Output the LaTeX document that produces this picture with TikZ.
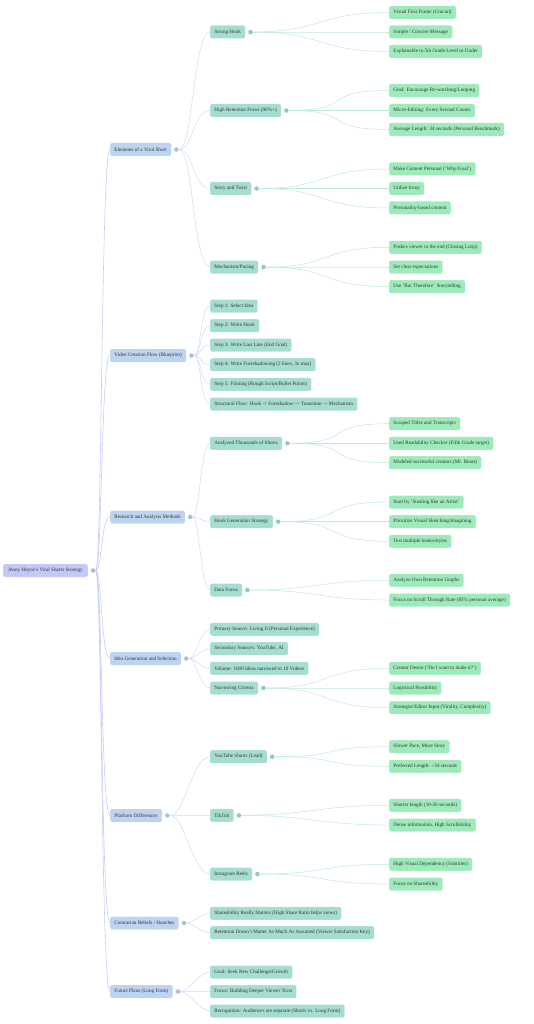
\documentclass[tikz,border=0pt]{standalone}
\usepackage{fontspec}
\setmainfont{Liberation Serif}
\usepackage{xcolor}
\definecolor{rootfill}{HTML}{C3C8F7}
\definecolor{secfill}{HTML}{BCD3F1}
\definecolor{subfill}{HTML}{A5DDD0}
\definecolor{leaffill}{HTML}{9DEBBB}
\definecolor{rootline}{HTML}{C6CCF8}
\definecolor{secline}{HTML}{CADDF5}
\definecolor{subline}{HTML}{BCEADC}
\definecolor{inktext}{HTML}{333333}
\usetikzlibrary{positioning}

\begin{document}
\begin{tikzpicture}[
    x=1pt,y=-1pt,
    font=\fontsize{5.15}{6}\selectfont,
    box/.style={anchor=west, rounded corners=1.5pt, inner xsep=4.3pt, inner ysep=0pt, minimum height=13pt, text=inktext, draw=white, densely dotted, line width=0.3pt},
    rootbox/.style={box, fill=rootfill},
    secbox/.style={box, fill=secfill},
    subbox/.style={box, fill=subfill},
    leafbox/.style={box, fill=leaffill},
    dot/.style={circle, inner sep=0pt, minimum size=5pt, draw=white, line width=0.3pt},
    rootedge/.style={draw=rootline, line width=0.6pt},
    secedge/.style={draw=secline, line width=0.5pt},
    subedge/.style={draw=subline, line width=0.5pt}
]
    \useasboundingbox (0,0) rectangle (533,1024);

    % root
    \node[rootbox, inner xsep=5pt] (root) at (3,570.5) {Jenny Hoyos's Viral Shorts Strategy};
    \node[dot, fill=rootfill!90!black, right=2.5pt of root] (root-c) {};

    % main branches
    \node[secbox] (elem) at (110,149.5) {Elements of a Viral Short};
    \node[secbox] (flow) at (110,355.5) {Video Creation Flow (Blueprint)};
    \node[secbox] (research) at (110,517) {Research and Analysis Methods};
    \node[secbox] (idea) at (110,658.5) {Idea Generation and Selection};
    \node[secbox] (platform) at (110,815.5) {Platform Differences};
    \node[secbox] (contra) at (110,923) {Contrarian Beliefs / Hunches};
    \node[secbox] (future) at (110,991.5) {Future Plans (Long Form)};
    \foreach \n in {elem,flow,research,idea,platform,contra,future}
        \node[dot, fill=secfill!90!black, right=2.5pt of \n] (\n-c) {};
    \foreach \n in {elem,flow,research,idea,platform,contra,future}
        \draw[rootedge] (root-c) .. controls +(9,0) and +(-9,0) .. (\n.west);

    % elements of a viral short
    \node[subbox] (hook) at (210,32) {Strong Hook};
    \node[subbox] (retention) at (210,110.5) {High Retention Focus (90\%+)};
    \node[subbox] (story) at (210,188.5) {Story and Twist};
    \node[subbox] (mech) at (210,267) {Mechanism/Pacing};
    \foreach \n in {hook,retention,story,mech} {
        \node[dot, fill=subfill!90!black, right=2.5pt of \n] (\n-c) {};
        \draw[secedge] (elem-c) .. controls +(17,0) and +(-17,0) .. (\n.west);
    }
    \node[leafbox] (hook-a) at (389,12.5) {Visual First Frame (Crucial)};
    \node[leafbox] (hook-b) at (389,32) {Simple / Concise Message};
    \node[leafbox] (hook-d) at (389,51.5) {Explainable to 5th Grade Level or Under};
    \node[leafbox] (retention-a) at (389,90.5) {Goal: Encourage Re-watching/Looping};
    \node[leafbox] (retention-b) at (389,110.5) {Micro-Editing: Every Second Counts};
    \node[leafbox] (retention-d) at (389,129.5) {Average Length: 34 seconds (Personal Benchmark)};
    \node[leafbox] (story-a) at (389,169) {Make Content Personal ('Why/Goal')};
    \node[leafbox] (story-b) at (389,188.5) {Utilize Irony};
    \node[leafbox] (story-d) at (389,208) {Personality-based content};
    \node[leafbox] (mech-a) at (389,247.3) {Pushes viewer to the end (Closing Loop)};
    \node[leafbox] (mech-b) at (389,267) {Set clear expectations};
    \node[leafbox] (mech-d) at (389,286.7) {Use 'But Therefore' Storytelling};
    \foreach \n in {hook,retention,story,mech}
        \foreach \m in {a,b,d}
            \draw[subedge] (\n-c) .. controls +(70,0) and +(-70,0) .. (\n-\m.west);

    % video creation flow
    \node[subbox] (step1) at (210,306) {Step 1: Select Idea};
    \node[subbox] (step2) at (210,325.7) {Step 2: Write Hook};
    \node[subbox] (step3) at (210,345) {Step 3: Write Last Line (End Goal)};
    \node[subbox] (step4) at (210,364.7) {Step 4: Write Foreshadowing (2 lines, 3x max)};
    \node[subbox] (step5) at (210,384.3) {Step 5: Filming (Rough Script/Bullet Points)};
    \node[subbox] (structure) at (210,404) {Structural Flow: Hook -> Foreshadow -> Transition -> Mechanism};
    \foreach \n in {step1,step2,step3,step4,step5,structure}
        \draw[secedge] (flow-c) .. controls +(10,0) and +(-10,0) .. (\n.west);

    % research and analysis
    \node[subbox] (analyzed) at (210,443.3) {Analyzed Thousands of Shorts};
    \node[subbox] (hookgen) at (210,521.7) {Hook Generation Strategy};
    \node[subbox] (data) at (210,590) {Data Focus};
    \foreach \n in {analyzed,hookgen,data} {
        \node[dot, fill=subfill!90!black, right=2.5pt of \n] (\n-c) {};
        \draw[secedge] (research-c) .. controls +(9,0) and +(-9,0) .. (\n.west);
    }
    \node[leafbox] (analyzed-a) at (389,423.7) {Scraped Titles and Transcripts};
    \node[leafbox] (analyzed-b) at (389,443.3) {Used Readability Checker (Fifth Grade target)};
    \node[leafbox] (analyzed-d) at (389,462.7) {Modeled successful creators (Mr. Beast)};
    \node[leafbox] (hookgen-a) at (389,502) {Start by 'Stealing like an Artist'};
    \node[leafbox] (hookgen-b) at (389,521.7) {Prioritize Visual Sketching/Imagining};
    \node[leafbox] (hookgen-d) at (389,541.3) {Test multiple hooks/styles};
    \node[leafbox] (data-a) at (389,580.3) {Analyze Own Retention Graphs};
    \node[leafbox] (data-b) at (389,600) {Focus on Scroll Through Rate (85\% personal average)};
    \foreach \n in {analyzed,hookgen}
        \foreach \m in {a,b,d}
            \draw[subedge] (\n-c) .. controls +(70,0) and +(-70,0) .. (\n-\m.west);
    \foreach \m in {a,b}
        \draw[subedge] (data-c) .. controls +(70,0) and +(-70,0) .. (data-\m.west);

    % idea generation
    \node[subbox] (primary) at (210,629.3) {Primary Source: Living It (Personal Experience)};
    \node[subbox] (secondary) at (210,648.7) {Secondary Sources: YouTube, AI};
    \node[subbox] (volume) at (210,668.3) {Volume: 1000 Ideas narrowed to 10 Videos};
    \node[subbox] (narrow) at (210,688) {Narrowing Criteria};
    \node[dot, fill=subfill!90!black, right=2.5pt of narrow] (narrow-c) {};
    \foreach \n in {primary,secondary,volume,narrow}
        \draw[secedge] (idea-c) .. controls +(10,0) and +(-10,0) .. (\n.west);
    \node[leafbox] (narrow-a) at (389,668.3) {Creator Desire ('Do I want to make it?')};
    \node[leafbox] (narrow-b) at (389,688) {Logistical Possibility};
    \node[leafbox] (narrow-d) at (389,707.7) {Strategist/Editor Input (Virality, Complexity)};
    \foreach \m in {a,b,d}
        \draw[subedge] (narrow-c) .. controls +(70,0) and +(-70,0) .. (narrow-\m.west);

    % platform differences
    \node[subbox] (youtube) at (210,756.7) {YouTube Shorts (Lead)};
    \node[subbox] (tiktok) at (210,815.3) {TikTok};
    \node[subbox] (reels) at (210,874) {Instagram Reels};
    \foreach \n in {youtube,tiktok,reels} {
        \node[dot, fill=subfill!90!black, right=2.5pt of \n] (\n-c) {};
        \draw[secedge] (platform-c) .. controls +(18,0) and +(-18,0) .. (\n.west);
    }
    \node[leafbox] (youtube-a) at (389,746.7) {Slower Pace, More Story};
    \node[leafbox] (youtube-b) at (389,766.3) {Preferred Length: \textasciitilde34 seconds};
    \node[leafbox] (tiktok-a) at (389,805.3) {Shorter length (10-20 seconds)};
    \node[leafbox] (tiktok-b) at (389,825) {Dense information, High Scrollability};
    \node[leafbox] (reels-a) at (389,864.3) {High Visual Dependency (Subtitles)};
    \node[leafbox] (reels-b) at (389,884) {Focus on Shareability};
    \foreach \n in {youtube,tiktok,reels}
        \foreach \m in {a,b}
            \draw[subedge] (\n-c) .. controls +(70,0) and +(-70,0) .. (\n-\m.west);

    % contrarian beliefs
    \node[subbox] (share) at (210,913.3) {Shareability Really Matters (High Share Ratio helps views)};
    \node[subbox] (retain) at (210,932.7) {Retention Doesn't Matter As Much As Assumed (Viewer Satisfaction Key)};
    \foreach \n in {share,retain}
        \draw[secedge] (contra-c) .. controls +(10,0) and +(-10,0) .. (\n.west);

    % future plans
    \node[subbox] (goal) at (210,972) {Goal: Seek New Challenge/Growth};
    \node[subbox] (trust) at (210,991.7) {Focus: Building Deeper Viewer Trust};
    \node[subbox] (separate) at (210,1011) {Recognition: Audiences are separate (Shorts vs. Long Form)};
    \foreach \n in {goal,trust,separate}
        \draw[secedge] (future-c) .. controls +(10,0) and +(-10,0) .. (\n.west);
\end{tikzpicture}
\end{document}
